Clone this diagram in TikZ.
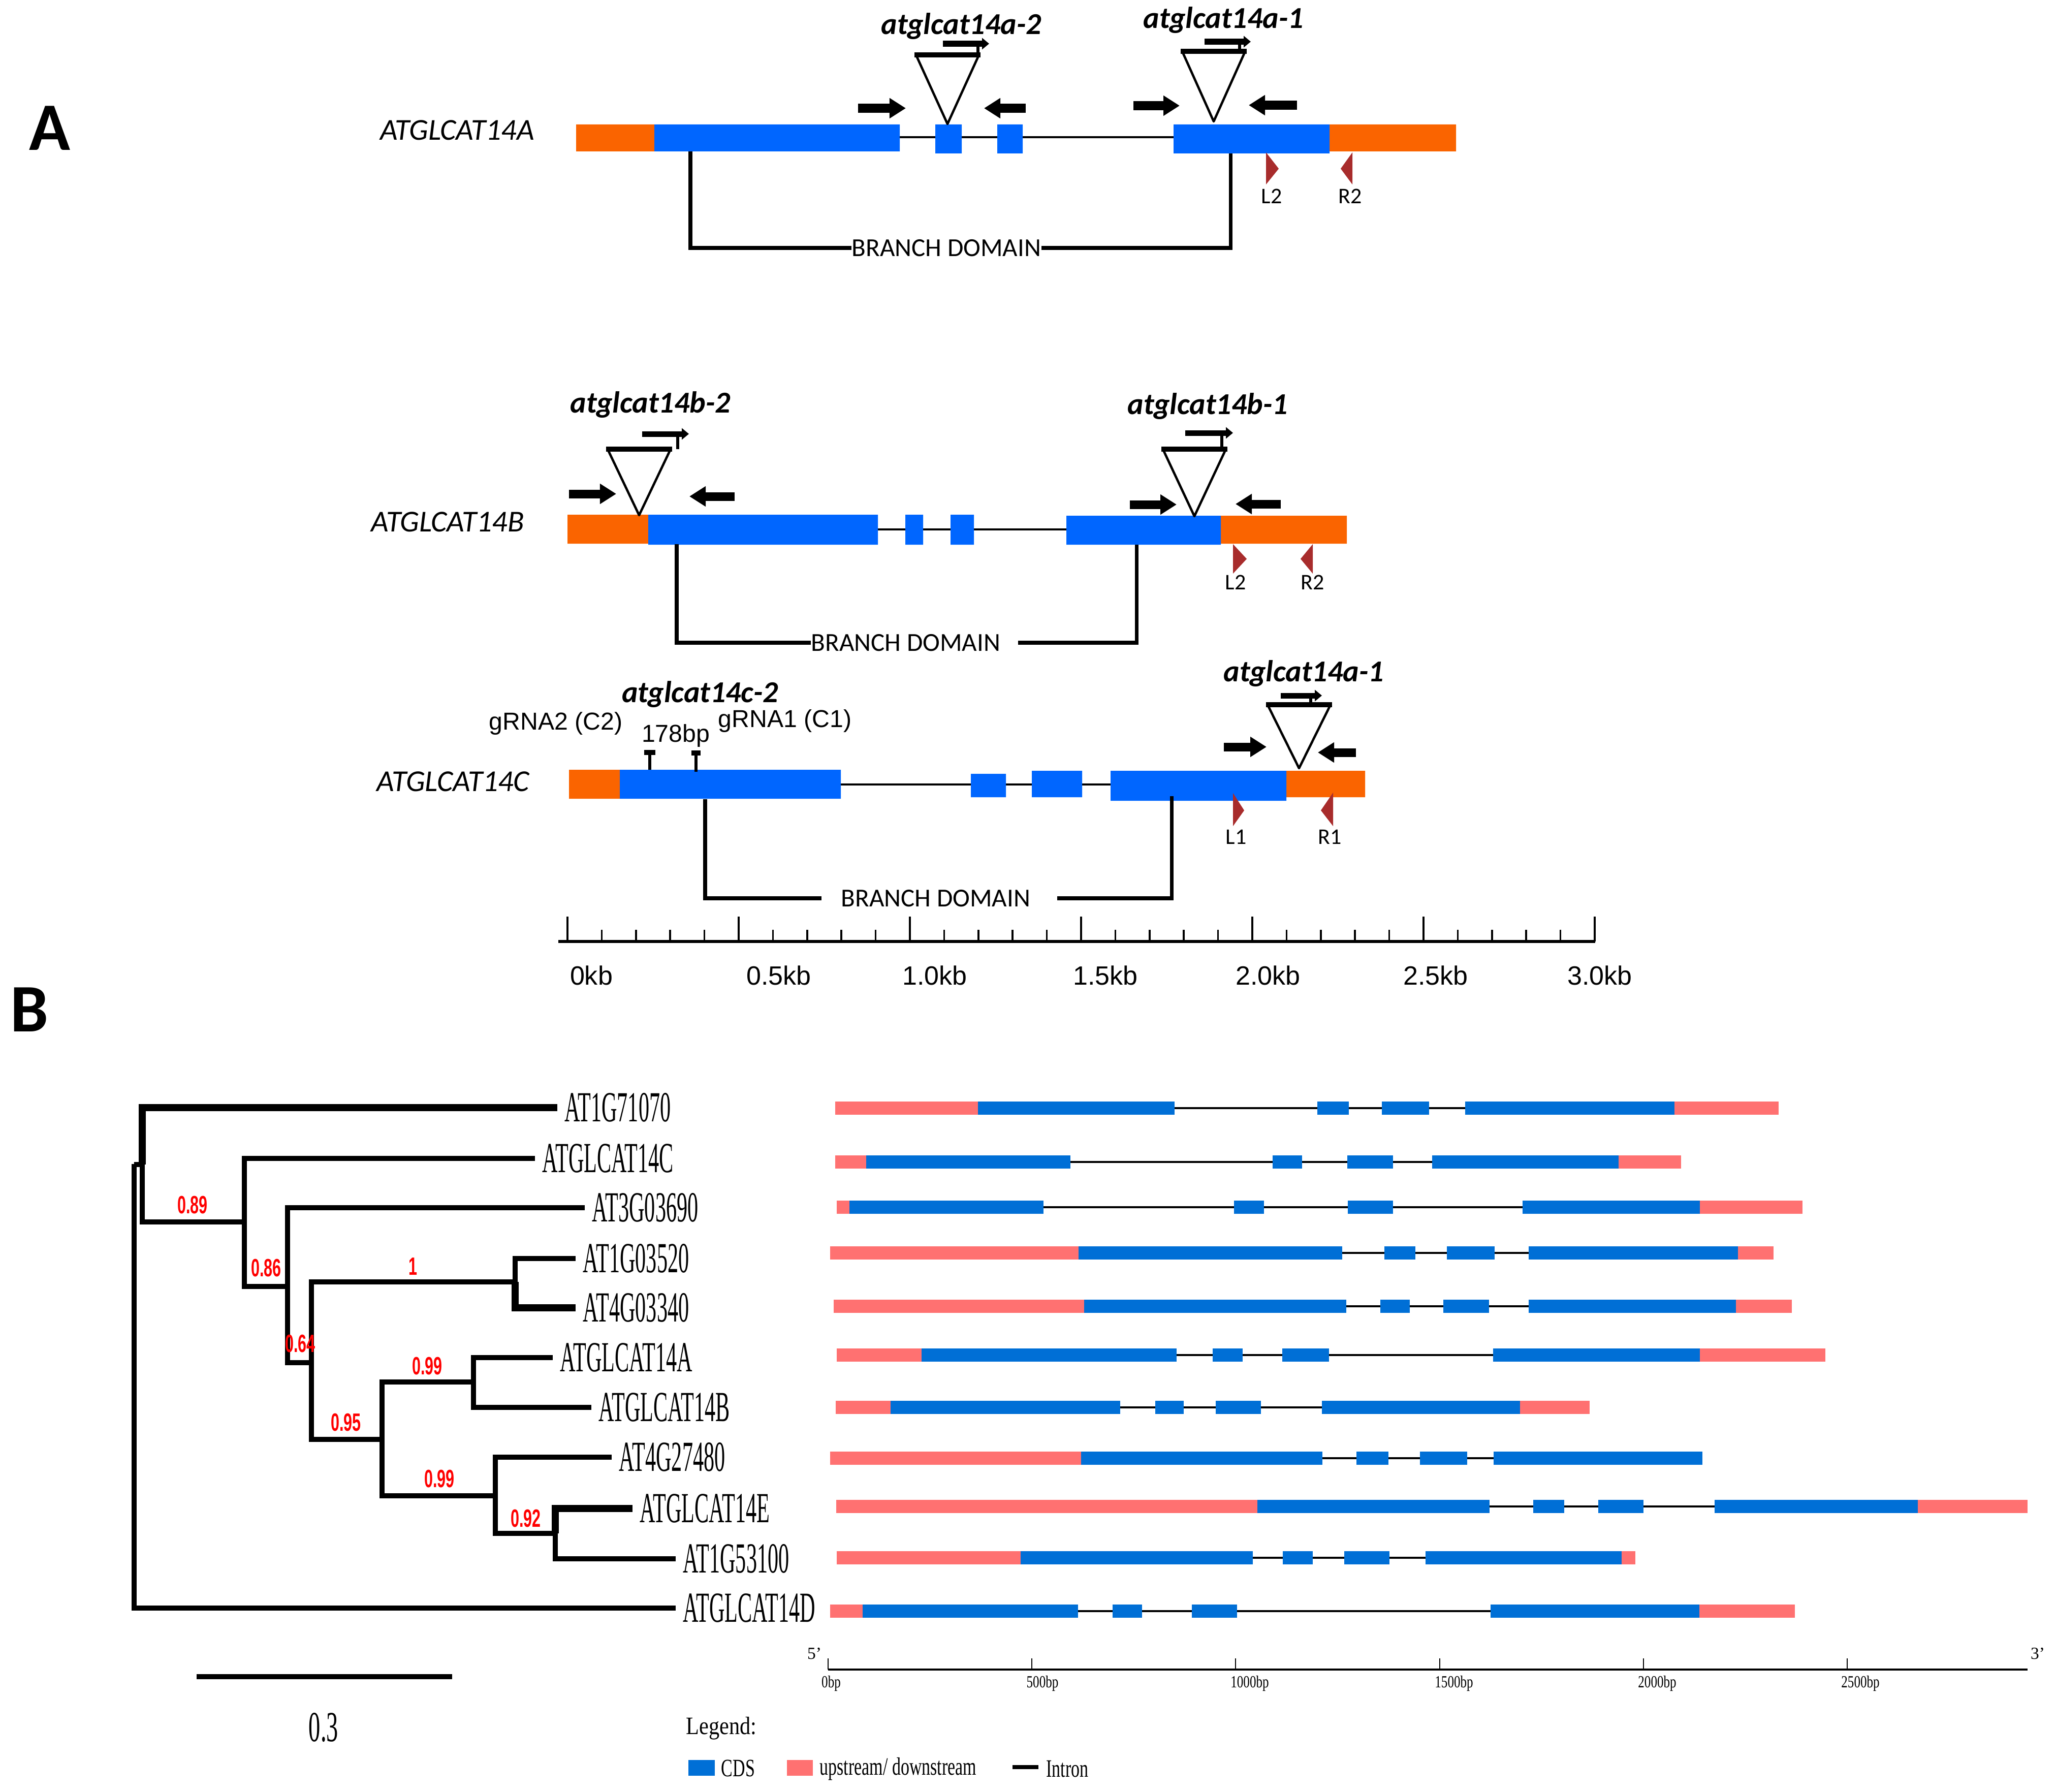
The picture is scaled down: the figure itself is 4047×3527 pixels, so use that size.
\documentclass[tikz,border=0pt]{standalone}
\usepackage{fontspec}
\setmainfont{Liberation Serif}
\setsansfont{Carlito}
\newfontfamily\arialfont{Liberation Sans}
\usetikzlibrary{arrows.meta,positioning}

\definecolor{geneorange}{RGB}{250,100,0}
\definecolor{geneblue}{RGB}{0,102,255}
\definecolor{sitered}{RGB}{168,44,44}
\definecolor{cdsblue}{RGB}{0,111,214}
\definecolor{flankpink}{RGB}{255,113,113}

\newcommand{\tightx}[2][0.5]{\scalebox{#1}[1]{#2}}
\newcommand{\structrow}[5]{%
  \draw[intronb] (#2,#1) -- (#3,#1);
  \foreach \xa/\xb in {#4} {\fill[flank] (\xa,#1-13) rectangle (\xb,#1+13);}
  \foreach \xa/\xb in {#5} {\fill[cds] (\xa,#1-13) rectangle (\xb,#1+13);}
}

\begin{document}
\begin{tikzpicture}[x=0.01cm, y=-0.01cm,
    utr/.style={fill=geneorange},
    exon/.style={fill=geneblue},
    intron/.style={line width=1.4pt},
    primer/.style={line width=0.17cm, -{Triangle[width=0.38cm,length=0.32cm]}},
    tdna/.style={line width=1.3pt, line join=round},
    tdnatop/.style={line width=2.6pt},
    tdnaarrow/.style={line width=0.11cm, -{Triangle[width=0.22cm,length=0.14cm]}},
    site/.style={fill=sitered},
    sitelab/.style={font=\sffamily\fontsize{12.5}{14}\selectfont, inner sep=0},
    genelab/.style={font=\sffamily\itshape\fontsize{17}{20}\selectfont},
    mutlab/.style={font=\sffamily\bfseries\itshape\fontsize{17}{20}\selectfont},
    domainlab/.style={font=\sffamily\fontsize{14.5}{16}\selectfont, inner sep=0},
    bracket/.style={line width=2pt},
    guide/.style={font=\arialfont\fontsize{13.7}{15}\selectfont},
    kblab/.style={font=\arialfont\fontsize{14.8}{16}\selectfont},
    panellab/.style={font=\sffamily\bfseries\fontsize{38}{40}\selectfont},
    branch/.style={line width=2.9pt},
    heavy/.style={line width=4.2pt},
    leaf/.style={anchor=west, inner xsep=0.14cm, font=\fontsize{24}{26}\selectfont},
    scalelab/.style={font=\fontsize{24}{26}\selectfont},
    boot/.style={text=red, font=\arialfont\bfseries\fontsize{14}{15}\selectfont, inner sep=0},
    cds/.style={fill=cdsblue},
    flank/.style={fill=flankpink},
    intronb/.style={line width=1.3pt},
    bplab/.style={font=\fontsize{9.5}{10}\selectfont, inner sep=0},
    legendlab/.style={font=\fontsize{14}{15}\selectfont, inner sep=0}]

  \useasboundingbox (0,0) rectangle (4047,3527);

  \node[panellab] (panA) at (98,252) {A};
  \node[panellab] (panB) at (58,1987) {B};

  % ATGLCAT14A
  \node[genelab] (rowA) at (900,256) {ATGLCAT14A};
  \draw[intron] (1771,270) -- (2310,270);
  \fill[utr] (1134,245) rectangle (1288,298) (2617,245) rectangle (2866,298);
  \fill[exon] (1288,245) rectangle (1771,298) (1841,245) rectangle (1893,302)
    (1963,245) rectangle (2013,302) (2310,245) rectangle (2617,302);
  \node[domainlab] (bdA) at (1863,488) {BRANCH DOMAIN};
  \draw[bracket] (1359,298) |- (bdA.west);
  \draw[bracket] (2422,302) |- (bdA.east);
  \fill[site] (2492,300) -- (2517,332) -- (2492,363) -- cycle;
  \fill[site] (2662,300) -- (2639,332) -- (2662,363) -- cycle;
  \node[sitelab] (L2a) at (2503,386) {L2};
  \node[sitelab] (R2a) at (2658,386) {R2};
  \draw[primer] (1689,213) -- (1783,213);
  \draw[primer] (2019,213) -- (1937,213);
  \draw[primer] (2231,208) -- (2322,208);
  \draw[primer] (2553,207) -- (2458,207);

  % ATGLCAT14B
  \node[genelab] (rowB) at (881,1027) {ATGLCAT14B};
  \draw[intron] (1728,1042) -- (2099,1042);
  \fill[utr] (1117,1013) rectangle (1276,1070) (2403,1015) rectangle (2651,1070);
  \fill[exon] (1276,1013) rectangle (1728,1072) (1782,1013) rectangle (1817,1072)
    (1871,1013) rectangle (1917,1072) (2099,1015) rectangle (2403,1072);
  \node[domainlab] (bdB) at (1783,1265) {BRANCH DOMAIN};
  \coordinate (bdBend) at (2004,1265);
  \draw[bracket] (1332,1071) |- (bdB.west);
  \draw[bracket] (2237,1072) |- (bdBend);
  \fill[site] (2427,1071) -- (2454,1100) -- (2427,1129) -- cycle;
  \fill[site] (2584,1071) -- (2560,1100) -- (2584,1129) -- cycle;
  \node[sitelab] (L2b) at (2432,1146) {L2};
  \node[sitelab] (R2b) at (2584,1146) {R2};
  \draw[primer] (1120,972) -- (1213,972);
  \draw[primer] (1446,977) -- (1357,977);
  \draw[primer] (2224,993) -- (2316,993);
  \draw[primer] (2521,992) -- (2432,992);

  % ATGLCAT14C
  \node[genelab] (rowC) at (892,1538) {ATGLCAT14C};
  \draw[intron] (1655,1544) -- (2186,1544);
  \fill[utr] (1120,1515) rectangle (1220,1572) (2532,1517) rectangle (2687,1569);
  \fill[exon] (1220,1515) rectangle (1655,1572) (1911,1523) rectangle (1980,1569)
    (2031,1517) rectangle (2130,1569) (2186,1517) rectangle (2532,1576);
  \draw[line width=1.6pt] (1279,1515) -- (1279,1481) (1370,1519) -- (1370,1482);
  \draw[line width=3pt] (1268,1481) -- (1290,1481) (1361,1482) -- (1379,1482);
  \node[guide] (g2) at (1094,1424) {gRNA2 (C2)};
  \node[guide] (gap) at (1330,1448) {178bp};
  \node[guide] (g1) at (1545,1419) {gRNA1 (C1)};
  \node[domainlab] (bdC) at (1842,1768) {BRANCH DOMAIN};
  \coordinate (bdCa) at (1617,1768);
  \coordinate (bdCb) at (2081,1768);
  \draw[bracket] (1388,1573) |- (bdCa);
  \draw[bracket] (2306,1567) |- (bdCb);
  \fill[site] (2427,1561) -- (2449,1595) -- (2427,1626) -- cycle;
  \fill[site] (2624,1560) -- (2600,1595) -- (2624,1626) -- cycle;
  \node[sitelab] (L1c) at (2433,1647) {L1};
  \node[sitelab] (R1c) at (2618,1647) {R1};
  \draw[primer] (2409,1470) -- (2493,1470);
  \draw[primer] (2669,1481) -- (2594,1481);

  % insertions
  \foreach \cx/\ty/\py/\ay/\ax/\bx in {1865/108/244/86/1856/1947, 2389/101/239/82/2371/2462,
      1258/884/1014/854/1264/1356, 2351/884/1016/852/2333/2427, 2557/1387/1512/1369/2521/2602}
  {
    \draw[tdna] (\cx-62,\ty) -- (\cx,\py) -- (\cx+62,\ty);
    \draw[tdnatop] (\cx-65,\ty) -- (\cx+65,\ty);
    \draw[line width=1.5pt] (\bx-22,\ay) -- (\bx-22,\ty);
    \draw[tdnaarrow] (\ax,\ay) -- (\bx,\ay);
  }
  \node[mutlab] (a2) at (1892,52) {atglcat14a-2};
  \node[mutlab] (a1) at (2408,40) {atglcat14a-1};
  \node[mutlab] (b2) at (1280,797) {atglcat14b-2};
  \node[mutlab] (b1) at (2377,800) {atglcat14b-1};
  \node[mutlab] (c2) at (1378,1367) {atglcat14c-2};
  \node[mutlab] (a1c) at (2566,1326) {atglcat14a-1};

  % kb scale
  \draw[line width=1.8pt] (1099,1853) -- (3140,1853);
  \foreach \i in {0,...,30}
    \draw[line width=1pt] (1117+67.4*\i,1853) -- (1117+67.4*\i,1830);
  \foreach \i in {0,...,6}
    \draw[line width=1pt] (1117+337*\i,1853) -- (1117+337*\i,1804);
  \foreach \x/\lab [count=\k] in {1164/0kb, 1533/0.5kb, 1840/1.0kb, 2176/1.5kb, 2496/2.0kb, 2826/2.5kb, 3149/3.0kb}
    \node[kblab] (kb\k) at (\x,1920) {\lab};

  % tree
  \coordinate (root) at (264,2291);
  \coordinate (c1) at (280,2292);
  \coordinate (c2) at (481,2405);
  \coordinate (c3) at (566,2532);
  \coordinate (c4) at (613,2682);
  \coordinate (c5) at (1014,2523);
  \coordinate (c6) at (752,2833);
  \coordinate (c7) at (932,2720);
  \coordinate (c8) at (975,2944);
  \coordinate (c9) at (1093,3018);
  \node[leaf] (t1) at (1097,2180) {\tightx{AT1G71070}};
  \node[leaf] (t2) at (1053,2280) {\tightx{ATGLCAT14C}};
  \node[leaf] (t3) at (1151,2377) {\tightx{AT3G03690}};
  \node[leaf] (t4) at (1133,2477) {\tightx{AT1G03520}};
  \node[leaf] (t5) at (1133,2574) {\tightx{AT4G03340}};
  \node[leaf] (t6) at (1088,2672) {\tightx{ATGLCAT14A}};
  \node[leaf] (t7) at (1164,2770) {\tightx{ATGLCAT14B}};
  \node[leaf] (t8) at (1204,2868) {\tightx{AT4G27480}};
  \node[leaf] (t9) at (1245,2969) {\tightx{ATGLCAT14E}};
  \node[leaf] (t10) at (1330,3068) {\tightx{AT1G53100}};
  \node[leaf] (t11) at (1330,3165) {\tightx{ATGLCAT14D}};
  \draw[branch] (root) |- (c1) (root) |- (t11.west)
    (c1) |- (c2) (c2) |- (t2.west) (c2) |- (c3)
    (c3) |- (t3.west) (c3) |- (c4) (c4) |- (c5) (c4) |- (c6)
    (c5) |- (t4.west) (c6) |- (c7) (c6) |- (c8)
    (c7) |- (t6.west) (c7) |- (t7.west) (c8) |- (t8.west) (c8) |- (c9)
    (c9) |- (t10.west);
  \draw[heavy] (c1) |- (t1.west) (c5) |- (t5.west) (c9) |- (t9.west);
  \foreach \x/\y/\lab [count=\k] in {379/2372/0.89, 524/2496/0.86, 591/2645/0.64, 813/2493/1,
      841/2689/0.99, 681/2800/0.95, 865/2911/0.99, 1035/2989/0.92}
    \node[boot] (bs\k) at (\x,\y) {\tightx[0.62]{\lab}};
  \draw[branch] (387,3300) -- (890,3300);
  \node[scalelab] (tscale) at (637,3400) {\tightx[0.55]{0.3}};

  % gene structures
  \structrow{2181}{1644}{3501}{1644/1925, 3296/3501}{1925/2312, 2593/2655, 2720/2813, 2884/3296}
  \structrow{2287}{1644}{3309}{1644/1705, 3186/3309}{1705/2107, 2505/2563, 2652/2742, 2819/3186}
  \structrow{2376}{1647}{3548}{1647/1672, 3346/3548}{1672/2054, 2429/2488, 2653/2742, 2997/3346}
  \structrow{2466}{1634}{3491}{1634/2123, 3421/3491}{2123/2642, 2725/2786, 2848/2942, 3009/3421}
  \structrow{2571}{1641}{3527}{1641/2134, 3417/3527}{2134/2650, 2717/2775, 2841/2931, 3009/3417}
  \structrow{2667}{1647}{3593}{1647/1814, 3346/3593}{1814/2316, 2387/2446, 2524/2616, 2939/3346}
  \structrow{2770}{1645}{3129}{1645/1753, 2992/3129}{1753/2205, 2274/2330, 2393/2482, 2602/2992}
  \structrow{2870}{1634}{3351}{1634/2128}{2128/2603, 2670/2733, 2795/2888, 2940/3351}
  \structrow{2965}{1646}{3991}{1646/2475, 3775/3991}{2475/2932, 3018/3079, 3146/3235, 3375/3775}
  \structrow{3066}{1647}{3219}{1647/2009, 3192/3219}{2009/2466, 2525/2584, 2646/2735, 2806/3192}
  \structrow{3171}{1634}{3533}{1634/1698, 3345/3533}{1698/2122, 2190/2248, 2346/2435, 2934/3345}

  % bp axis
  \draw[line width=1.3pt] (1630,3286) -- (3991,3286);
  \foreach \i in {0,...,5}
    \draw[line width=0.6pt] (1630+401.2*\i,3286) -- (1630+401.2*\i,3264);
  \foreach \x/\lab [count=\k] in {1636/0bp, 2052/500bp, 2460/1000bp, 2862/1500bp, 3262/2000bp, 3662/2500bp}
    \node[bplab] (bp\k) at (\x,3313) {\tightx[0.75]{\lab}};
  \node[bplab] (five) at (1603,3255) {5'};
  \node[bplab] (three) at (4011,3255) {3'};

  % legend
  \node[legendlab] (leg) at (1420,3402) {\tightx[0.86]{Legend:}};
  \fill[cds] (1355,3464) rectangle (1407,3495);
  \node[legendlab] (legcds) at (1453,3480) {\tightx[0.69]{CDS}};
  \fill[flank] (1549,3464) rectangle (1600,3495);
  \node[legendlab] (legflank) at (1768,3482) {\tightx[0.69]{upstream/ downstream}};
  \draw[line width=2.2pt] (1993,3478) -- (2044,3478);
  \node[legendlab] (legintron) at (2101,3482) {\tightx[0.69]{Intron}};
\end{tikzpicture}
\end{document}
